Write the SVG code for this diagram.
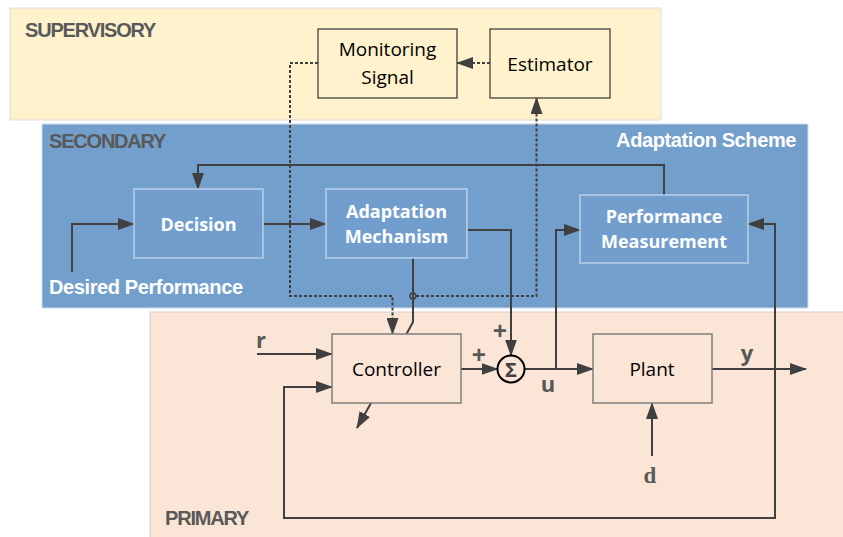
<svg xmlns="http://www.w3.org/2000/svg" width="843" height="537" viewBox="0 0 843 537">
<style>
.hdr{font-family:"Liberation Sans",Arial,sans-serif;font-weight:bold;font-size:20px;fill:#595959;letter-spacing:-1.2px}
.hdrw{font-family:"Liberation Sans",Arial,sans-serif;font-weight:bold;font-size:20px;fill:#ffffff;letter-spacing:-0.4px}
.nb{font-family:"Open Sans",sans-serif;font-weight:bold;font-size:18px;fill:#ffffff;text-anchor:middle}
.nr{font-family:"Open Sans",sans-serif;font-size:19px;fill:#000000;text-anchor:middle}
.sig{font-family:"Open Sans",sans-serif;font-weight:bold;font-size:22px;fill:#595959;text-anchor:middle}
.pl{font-family:"Open Sans",sans-serif;font-weight:bold;font-size:25px;fill:#595959;text-anchor:middle}
.ln{fill:none;stroke:#404040;stroke-width:2}
.dt{fill:none;stroke:#404040;stroke-width:2;stroke-dasharray:3 2}
.boxS{fill:#FFF2CC;stroke:#404040;stroke-width:1.3}
.boxB{fill:#729ECE;stroke:#b9cfe8;stroke-width:1.5}
.boxP{fill:#FBE5D6;stroke:#7f7f7f;stroke-width:1.5}
</style>
<defs>
<marker id="ah" markerUnits="userSpaceOnUse" markerWidth="18" markerHeight="12" refX="16" refY="6" orient="auto">
<path d="M0,0 L17,6 L0,12 z" fill="#404040"/>
</marker>
</defs>
<g id="panels">
<rect x="10" y="8" width="651" height="112" fill="#FFF2CC" stroke="#dcdcdc" stroke-width="1"/>
<rect x="42" y="124" width="766" height="184" fill="#739FCC" stroke="#d3dbe4" stroke-width="1"/>
<rect x="150" y="312" width="700" height="230" fill="#FBE5D6" stroke="#d0d0d0" stroke-width="1"/>
<text class="hdr" x="25" y="37">SUPERVISORY</text>
<text class="hdr" x="49" y="148">SECONDARY</text>
<text class="hdrw" x="796" y="147" text-anchor="end">Adaptation Scheme</text>
<text class="hdrw" x="49" y="294">Desired Performance</text>
<text class="hdr" x="165" y="525">PRIMARY</text>
</g>
<g id="connectors">
<path class="ln" d="M72,272 V224 H134" marker-end="url(#ah)"/>
<path class="ln" d="M263,224 H326" marker-end="url(#ah)"/>
<path class="ln" d="M664,195 V165 H198 V189" marker-end="url(#ah)"/>
<path class="ln" d="M467,230 H511 V355.5" marker-end="url(#ah)"/>
<path class="ln" d="M413,258 V322 L406.5,334"/>
<path class="ln" d="M371,403 L357,428" marker-end="url(#ah)"/>
<path class="ln" d="M257,354 H332" marker-end="url(#ah)"/>
<path class="ln" d="M461,369 H497.5" marker-end="url(#ah)"/>
<path class="ln" d="M524.5,369 H593" marker-end="url(#ah)"/>
<path class="ln" d="M556,369 V230 H580" marker-end="url(#ah)"/>
<path class="ln" d="M712,369 H806" marker-end="url(#ah)"/>
<path class="ln" d="M775,518 V224 H748" marker-end="url(#ah)"/>
<path class="ln" d="M776,518 H284 V387 H332" marker-end="url(#ah)"/>
<path class="ln" d="M652,456 V403" marker-end="url(#ah)"/>
<path class="dt" d="M318,63 H290 V296 H392.5 V334" marker-end="url(#ah)"/>
<path class="dt" d="M416,296 H536.5 V98" marker-end="url(#ah)"/>
<path class="dt" d="M490,63 H457" marker-end="url(#ah)"/>
<circle cx="413" cy="296" r="3" fill="none" stroke="#404040" stroke-width="1.5"/>
<text class="sig" x="261" y="348">r</text>
<text class="pl" x="479" y="364">+</text>
<text class="pl" x="500" y="340">+</text>
<text class="sig" x="548" y="392">u</text>
<text class="sig" x="747" y="361">y</text>
<text x="650" y="483" text-anchor="middle" font-family="'Liberation Serif',serif" font-weight="bold" font-size="23" fill="#595959">d</text>
</g>
<g id="monitoring">
<rect class="boxS" x="318" y="29" width="139" height="69"/>
<text class="nr" x="387.5" y="56">Monitoring</text>
<text class="nr" x="387.5" y="84">Signal</text>
</g>
<g id="estimator">
<rect class="boxS" x="490" y="29" width="120" height="69"/>
<text class="nr" x="550" y="71">Estimator</text>
</g>
<g id="decision">
<rect class="boxB" x="134" y="189" width="129" height="69"/>
<text class="nb" x="198.5" y="231">Decision</text>
</g>
<g id="adaptation">
<rect class="boxB" x="326" y="189" width="141" height="69"/>
<text class="nb" x="396.5" y="218">Adaptation</text>
<text class="nb" x="396.5" y="243">Mechanism</text>
</g>
<g id="performance">
<rect class="boxB" x="580" y="195" width="168" height="68"/>
<text class="nb" x="664" y="223">Performance</text>
<text class="nb" x="664" y="248">Measurement</text>
</g>
<g id="controller">
<rect class="boxP" x="332" y="334" width="129" height="69"/>
<text class="nr" x="396.5" y="376">Controller</text>
</g>
<g id="sum">
<circle cx="511" cy="369" r="13.5" fill="none" stroke="#000000" stroke-width="2"/>
<text x="511" y="376.5" text-anchor="middle" font-family="'Open Sans',sans-serif" font-weight="bold" font-size="20" fill="#404040">Σ</text>
</g>
<g id="plant">
<rect class="boxP" x="593" y="334" width="119" height="69"/>
<text class="nr" x="652" y="376">Plant</text>
</g>
</svg>
